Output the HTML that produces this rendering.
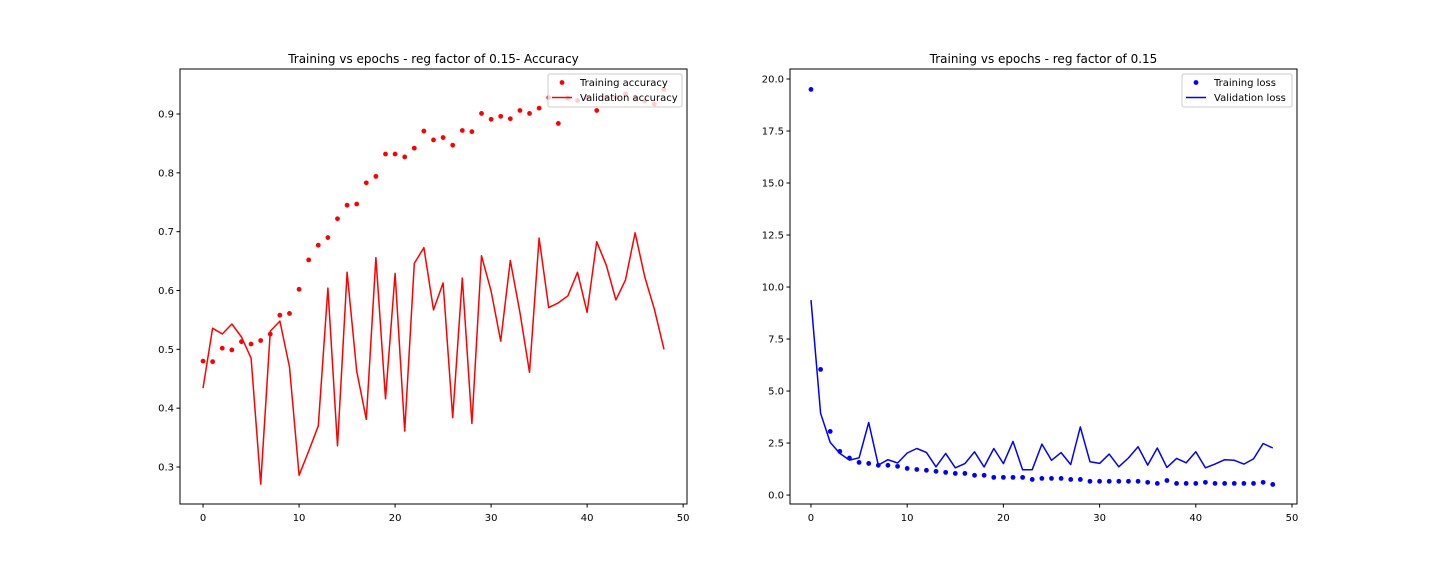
<!DOCTYPE html>
<html><head><meta charset="utf-8"><style>
body{margin:0;background:#fff;}
svg text{font-family:"DejaVu Sans","Liberation Sans",sans-serif;fill:#000;}
</style></head><body>
<svg id="fig" width="1440" height="576" xmlns="http://www.w3.org/2000/svg"></svg>
<script>
const epochs = Array.from({length:49},(_,i)=>i);
const trainAcc = [0.48,0.479,0.502,0.499,0.513,0.509,0.515,0.526,0.558,0.561,0.602,0.652,0.677,0.690,0.722,0.745,0.747,0.783,0.794,0.832,0.832,0.827,0.842,0.871,0.856,0.860,0.847,0.872,0.870,0.901,0.891,0.896,0.892,0.906,0.901,0.910,0.928,0.884,0.927,0.923,0.928,0.906,0.928,0.928,0.934,0.926,0.922,0.917,0.942];
const valAcc = [0.434,0.536,0.526,0.543,0.521,0.485,0.271,0.531,0.548,0.470,0.286,0.327,0.370,0.604,0.336,0.631,0.463,0.381,0.656,0.416,0.629,0.361,0.646,0.673,0.567,0.613,0.384,0.621,0.374,0.659,0.599,0.514,0.651,0.563,0.461,0.689,0.571,0.579,0.591,0.631,0.563,0.683,0.643,0.584,0.618,0.698,0.623,0.568,0.500];
const trainLoss = [19.5,6.04,3.06,2.10,1.78,1.57,1.52,1.43,1.43,1.38,1.28,1.23,1.19,1.14,1.09,1.04,1.04,0.95,0.95,0.85,0.85,0.85,0.85,0.75,0.80,0.80,0.80,0.75,0.75,0.66,0.66,0.66,0.66,0.66,0.66,0.61,0.56,0.70,0.56,0.56,0.56,0.61,0.56,0.56,0.56,0.56,0.56,0.61,0.51];
const valLoss = [9.37,3.93,2.53,2.00,1.68,1.79,3.49,1.44,1.70,1.54,2.02,2.24,2.05,1.36,2.00,1.31,1.51,2.08,1.35,2.24,1.51,2.58,1.22,1.22,2.45,1.67,2.04,1.47,3.27,1.60,1.52,1.97,1.36,1.78,2.32,1.44,2.26,1.33,1.76,1.55,2.08,1.31,1.49,1.70,1.67,1.49,1.74,2.48,2.26];
const xTicks = [0,10,20,30,40,50];
const accTicks = [0.3,0.4,0.5,0.6,0.7,0.8,0.9];
const lossTicks = [0,2.5,5,7.5,10,12.5,15,17.5,20];

const NS="http://www.w3.org/2000/svg";
const svg=document.getElementById('fig');
function mk(tag,attrs,parent){const e=document.createElementNS(NS,tag);for(const k in attrs)e.setAttribute(k,attrs[k]);(parent||svg).appendChild(e);return e;}

function panel(cfg){
  const g=mk('g',{});
  
  
  const X=v=>cfg.x0+(v-cfg.xmin)/(cfg.xmax-cfg.xmin)*(cfg.x1-cfg.x0);
  const Y=v=>cfg.y1-(v-cfg.ymin)/(cfg.ymax-cfg.ymin)*(cfg.y1-cfg.y0);
  // series
  const pts=epochs.map((e,i)=>X(e).toFixed(1)+','+Y(cfg.line[i]).toFixed(1)).join(' ');
  const pl=mk('polyline',{points:pts,fill:'none',stroke:cfg.color,'stroke-width':1.5,'stroke-linejoin':'round'},g);
  
  
  epochs.forEach((e,i)=>{
    const c=mk('circle',{cx:X(e),cy:Y(cfg.dots[i]),r:2.4,fill:cfg.color},g);
    
    
  });
  // frame
  const fr=mk('rect',{x:cfg.x0,y:cfg.y0,width:cfg.x1-cfg.x0,height:cfg.y1-cfg.y0,fill:'none',stroke:'#000','stroke-width':1},g);
  
  
  xTicks.forEach(t=>{
    const x=X(t);
    mk('line',{x1:x,x2:x,y1:cfg.y1,y2:cfg.y1+3.5,stroke:'#000'},g);
    const tx=mk('text',{x:x,y:cfg.y1+17,'font-size':10,'text-anchor':'middle'},g);
    tx.textContent=t;
    
    
  });
  cfg.yTicks.forEach(t=>{
    const y=Y(t);
    mk('line',{x1:cfg.x0-3.5,x2:cfg.x0,y1:y,y2:y,stroke:'#000'},g);
    const tx=mk('text',{x:cfg.x0-6,y:y+3.5,'font-size':10,'text-anchor':'end'},g);
    tx.textContent=cfg.fmt(t);
    
    
  });
  const ti=mk('text',{x:(cfg.x0+cfg.x1)/2,y:cfg.y0-6,'font-size':12,'text-anchor':'middle'},g);
  ti.textContent=cfg.title;
  
  
  // legend
  const lg=mk('g',{},g);
  
  
  const lx=cfg.legX, lw=cfg.x1-5-lx;
  mk('rect',{x:lx,y:cfg.y0+5,width:lw,height:33,rx:2,fill:'rgba(255,255,255,0.8)',stroke:'#ccc'},lg);
  mk('circle',{cx:lx+14,cy:cfg.y0+13.5,r:2.4,fill:cfg.color},lg);
  const t1=mk('text',{x:lx+32,y:cfg.y0+17,'font-size':10},lg);t1.textContent=cfg.dotLabel;
  
  
  mk('line',{x1:lx+4,x2:lx+24,y1:cfg.y0+28.5,y2:cfg.y0+28.5,stroke:cfg.color,'stroke-width':1.5},lg);
  const t2=mk('text',{x:lx+32,y:cfg.y0+32,'font-size':10},lg);t2.textContent=cfg.lineLabel;
  
  
}
panel({name:'accuracy-chart',x0:180,x1:687,y0:69,y1:504,xmin:-2.4,xmax:50.4,ymin:0.2371,ymax:0.9765,
  dots:trainAcc,line:valAcc,color:'#ff0000',yTicks:accTicks,fmt:t=>t.toFixed(1),
  title:'Training vs epochs - reg factor of 0.15- Accuracy',legX:548,
  dotLabel:'Training accuracy',lineLabel:'Validation accuracy',dotName:'training-accuracy-point',lineName:'validation-accuracy-line'});
panel({name:'loss-chart',x0:790,x1:1297,y0:69,y1:504,xmin:-2.18,xmax:50.52,ymin:-0.43,ymax:20.48,
  dots:trainLoss,line:valLoss,color:'#0000ff',yTicks:lossTicks,fmt:t=>t.toFixed(1),
  title:'Training vs epochs - reg factor of 0.15',legX:1182,
  dotLabel:'Training loss',lineLabel:'Validation loss',dotName:'training-loss-point',lineName:'validation-loss-line'});
</script>
</body></html>
